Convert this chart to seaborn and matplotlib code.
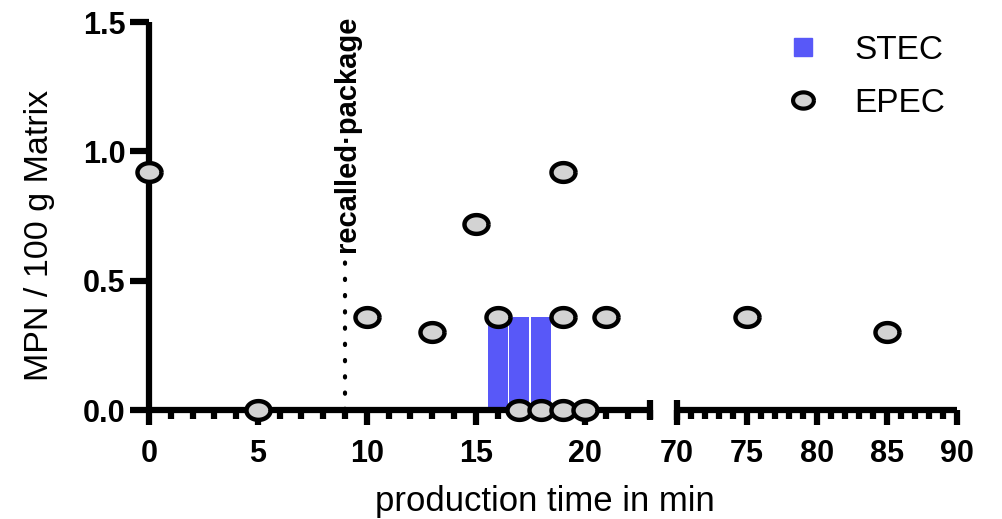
"""
Recreation of the STEC / EPEC production-time chart (broken x-axis).
"""

import numpy as np
import pandas as pd
import matplotlib
matplotlib.use('Agg')
import matplotlib.pyplot as plt
from matplotlib.path import Path
from matplotlib.lines import Line2D
from matplotlib.ticker import MultipleLocator
import seaborn as sns

# ---------------------------------------------------------------------------
# Data
# ---------------------------------------------------------------------------
stec_time = [16, 17, 18]
stec_mpn = [0.36, 0.36, 0.36]

epec_time = [0, 5, 10, 13, 15, 16, 17, 18, 19, 19, 19, 20, 21, 75, 85]
epec_mpn = [0.92, 0.0, 0.36, 0.30, 0.72, 0.36, 0.0, 0.0, 0.0, 0.36, 0.92,
            0.0, 0.36, 0.36, 0.30]

recall_time = 9
left_range = (0, 23)
right_range = (70, 90)
y_ticks = [0.0, 0.5, 1.0, 1.5]

# ---------------------------------------------------------------------------
# Style
# ---------------------------------------------------------------------------
sns.set_style('ticks', {'axes.edgecolor': 'black', 'xtick.color': 'black',
                        'ytick.color': 'black', 'text.color': 'black',
                        'axes.labelcolor': 'black'})
plt.rcParams['font.family'] = ['Liberation Sans', 'DejaVu Sans']
BLUE = '#5858f8'
GREY = '#d3d3d3'
LW = 4.5

theta = np.linspace(0, 2 * np.pi, 60)
ELLIPSE = Path(np.column_stack([np.cos(theta), 0.78 * np.sin(theta)]))

df_stec = pd.DataFrame({'time': stec_time, 'mpn': stec_mpn})
df_epec = pd.DataFrame({'time': epec_time, 'mpn': epec_mpn})

fig = plt.figure(figsize=(10.02, 5.19), dpi=100)
ax1 = fig.add_axes([149 / 1002, 1 - 410 / 519, 501 / 1002, 388 / 519])
ax2 = fig.add_axes([677 / 1002, 1 - 410 / 519, 280 / 1002, 388 / 519], sharey=ax1)

for ax, (lo, hi) in zip([ax1, ax2], [left_range, right_range]):
    sub_b = df_stec[(df_stec.time >= lo) & (df_stec.time <= hi)]
    if len(sub_b):
        sns.barplot(data=sub_b, x='time', y='mpn', native_scale=True, orient='x',
                    color=BLUE, saturation=1, width=0.92, errorbar=None,
                    linewidth=0, ax=ax, zorder=2)
    sub_e = df_epec[(df_epec.time >= lo) & (df_epec.time <= hi)]
    sns.scatterplot(data=sub_e, x='time', y='mpn', marker=ELLIPSE, s=300,
                    color=GREY, edgecolor='black', linewidth=3.2, ax=ax,
                    zorder=5, clip_on=False, legend=False)
    ax.set_xlim(lo, hi)
    ax.xaxis.set_major_locator(MultipleLocator(5))
    ax.xaxis.set_minor_locator(MultipleLocator(1))
    ax.set_xlabel('')
    ax.set_ylabel('')
    for s in ['top', 'right']:
        ax.spines[s].set_visible(False)
    for s in ['left', 'bottom']:
        ax.spines[s].set_linewidth(LW)
        ax.spines[s].set_capstyle('butt')
    ax.tick_params(axis='x', which='major', length=11, width=LW, pad=10,
                   labelsize=22)
    ax.tick_params(axis='x', which='minor', length=6.5, width=LW)
    for lab in ax.get_xticklabels():
        lab.set_fontweight('bold')

ax1.set_ylim(0, 1.5)
ax1.set_yticks(y_ticks)
ax1.set_yticklabels([f'{v:.1f}' for v in y_ticks], fontweight='bold')
ax1.tick_params(axis='y', length=14, width=LW, pad=3, labelsize=22)

ax2.spines['left'].set_visible(False)
ax2.tick_params(axis='y', left=False, labelleft=False)

# break caps
cap = dict(color='black', lw=LW, clip_on=False, solid_capstyle='butt')
ax1.plot([1, 1], [-0.025, 0.025], transform=ax1.transAxes, **cap)
ax2.plot([0, 0], [-0.025, 0.025], transform=ax2.transAxes, **cap)

# recalled package marker
ax1.plot([recall_time, recall_time], [0, 0.6], color='black', lw=3,
         linestyle=(0, (0.3, 3.6)), dash_capstyle='round', zorder=3)
ax1.text(9.1, 0.61, 'recalled\u00b7package', rotation=90, ha='center',
         va='bottom', fontsize=21, fontweight='bold', clip_on=False)

# labels
fig.text(40 / 1002, 1 - 235 / 519, 'MPN / 100 g Matrix', rotation=90,
         ha='center', va='center', fontsize=24.5)
fig.text(545 / 1002, 1 - 502 / 519, 'production time in min', ha='center',
         va='center', fontsize=25)

handles = [
    Line2D([], [], marker='s', color=BLUE, linestyle='', markersize=13),
    Line2D([], [], marker=ELLIPSE, markerfacecolor=GREY, markeredgecolor='black',
           markeredgewidth=3, linestyle='', markersize=15),
]
fig.legend(handles, ['STEC', 'EPEC'], loc='upper left',
           bbox_to_anchor=(786 / 1002, 1 - 35 / 519), frameon=False,
           fontsize=24, handlelength=1.0, handletextpad=1.05, labelspacing=0.65,
           borderpad=0, borderaxespad=0)

fig.savefig('out.png', dpi=100)
